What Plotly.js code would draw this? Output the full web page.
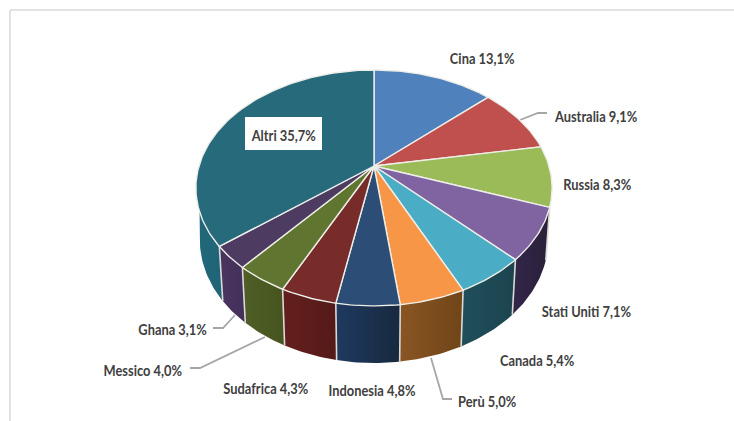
<!DOCTYPE html>
<html>
<head>
<meta charset="utf-8">
<script src="https://cdn.plot.ly/plotly-3.0.1.min.js"></script>
<style>html,body{margin:0;padding:0;background:#fff}#chart{width:734px;height:421px}</style>
</head>
<body>
<div id="chart"></div>
<script>
// Production share by country, drawn as a tilted pie with a visible side wall.
const countries = ['Cina','Australia','Russia','Stati Uniti','Canada','Perù','Indonesia','Sudafrica','Messico','Ghana','Altri'];
const shares = [13.1,9.1,8.3,7.1,5.4,5.0,4.8,4.3,4.0,3.1,35.7];
const topColors = ['#4f81bd','#c0504d','#9bbb59','#8064a2','#4bacc6','#f79646','#2c4d75','#772c2a','#5f7530','#4d3b62','#276a7c'];
const wallLeft  = [null,null,null,'#33264a','#1f4f5b','#8a5523','#1e3a5f','#641f1d','#4f5f26','#4a3560','#22687b'];
const wallRight = [null,null,null,'#2a2038','#1c444f','#6f4518','#18293f','#541a18','#46531f','#42305a','#1f6376'];

// Perspective of the disc: screen position of a point on its rim for a bearing
// measured clockwise from the far side.
const view = {cx:374, topY:166, halfW:175, halfH:113.9, tilt:0.186,
              lowY:217, lowH:118.8, lowShrink:0.978};
const rad = d => d*Math.PI/180;
function topRim(deg){
  const u=Math.sin(rad(deg)), v=Math.cos(rad(deg)), w=1+view.tilt*v;
  return [view.cx+view.halfW*u/w, view.topY-view.halfH*v/w];
}
function lowRim(deg){
  const u=Math.sin(rad(deg)), v=Math.cos(rad(deg)), w=1+view.tilt*v;
  return [view.cx+view.lowShrink*view.halfW*u/w, view.lowY-view.lowH*v/w];
}
function arc(fn,a,b){
  const pts=[], n=Math.max(2,Math.ceil(Math.abs(b-a)));
  for(let i=0;i<=n;i++) pts.push(fn(a+(b-a)*i/n));
  return pts;
}

// Cumulative bearings of the slices
const edges=[0];
shares.forEach(s=>edges.push(edges[edges.length-1]+s*3.6));
const total=edges[edges.length-1];
for(let i=0;i<edges.length;i++) edges[i]=edges[i]*360/total;

const traces=[];
const poly=(pts,extra)=>Object.assign({x:pts.map(p=>p[0]),y:pts.map(p=>p[1]),type:'scatter',mode:'lines',hoverinfo:'skip',showlegend:false},extra);

// Label placement and leader lines
const labelPlaces = [[481.5,57],[595.5,115],[597,183],[586.5,310],[536.5,359],[487,400],[371.5,389],[265.5,387],[142.5,369],[172.5,328],[283.5,134]];
const leaders = [
  [[547,113],[538,113],[520,120]],
  [[452,399],[443,399],[431,358]],
  [[190,368],[200,368],[265,337]],
  [[213,328],[223,328],[235,315]]
];
leaders.forEach(l=>traces.push(poly(l,{line:{color:'#a6a6a6',width:1.8}})));

// Side wall, front slices only
const tangentTop=270, tangentLow=261;
shares.forEach((s,i)=>{
  if(!wallLeft[i]) return;
  const last=i===shares.length-1;
  const a=edges[i], bTop=last?tangentTop:edges[i+1], bLow=last?tangentLow:edges[i+1];
  const pts=arc(topRim,a,bTop).concat(arc(lowRim,bLow,a));
  pts.push(pts[0]);
  traces.push(poly(pts,{fill:'toself',line:{width:0,color:wallLeft[i]},
    fillgradient:{type:'horizontal',colorscale:[[0,wallLeft[i]],[1,wallRight[i]]]}}));
});
// Light seams between wall sections
for(let i=3;i<shares.length;i++){
  traces.push(poly([topRim(edges[i]),lowRim(edges[i])],{line:{color:'#d9d9d6',width:1.6}}));
}

// Top face
shares.forEach((s,i)=>{
  const pts=[[view.cx,view.topY]].concat(arc(topRim,edges[i],edges[i+1]));
  pts.push(pts[0]);
  traces.push(poly(pts,{fill:'toself',fillcolor:topColors[i],line:{color:'#eeeee8',width:1.4}}));
});

const labelFont={family:'Lato,"Liberation Sans",sans-serif',size:16,color:'#404040',weight:700};
const annotations=countries.map((c,i)=>({
  x:labelPlaces[i][0],y:labelPlaces[i][1],xref:'x',yref:'y',showarrow:false,
  text:c+' '+shares[i].toFixed(1).replace('.',',')+'%',font:labelFont,
  xanchor:'center',yanchor:'middle'
}));
const shapes=[
  {type:'line',xref:'x',yref:'y',x0:10,x1:734,y0:10,y1:10,line:{color:'#e2e2e2',width:2}},
  {type:'line',xref:'x',yref:'y',x0:10,x1:10,y0:10,y1:421,line:{color:'#e2e2e2',width:2}},
  {type:'rect',xref:'x',yref:'y',x0:245,x1:322,y0:117,y1:150,fillcolor:'#ffffff',line:{width:0},layer:'above'}
];

Plotly.newPlot('chart',traces,{
  width:734,height:421,margin:{l:0,r:0,t:0,b:0},paper_bgcolor:'#fff',plot_bgcolor:'#fff',
  xaxis:{range:[0,734],visible:false,fixedrange:true},
  yaxis:{range:[421,0],visible:false,fixedrange:true},
  showlegend:false,shapes,annotations,hovermode:false
},{displayModeBar:false,staticPlot:true}).then(()=>{
  // Condense the label lettering around each label's centre
  const squeeze=0.805;
  document.querySelectorAll('#chart .annotation-text').forEach(t=>{
    const box=t.getBBox(), mid=box.x+box.width/2;
    t.setAttribute('transform','translate('+mid+' 0) scale('+squeeze+' 1) translate('+(-mid)+' 0)');
  });
});
</script>
</body>
</html>
